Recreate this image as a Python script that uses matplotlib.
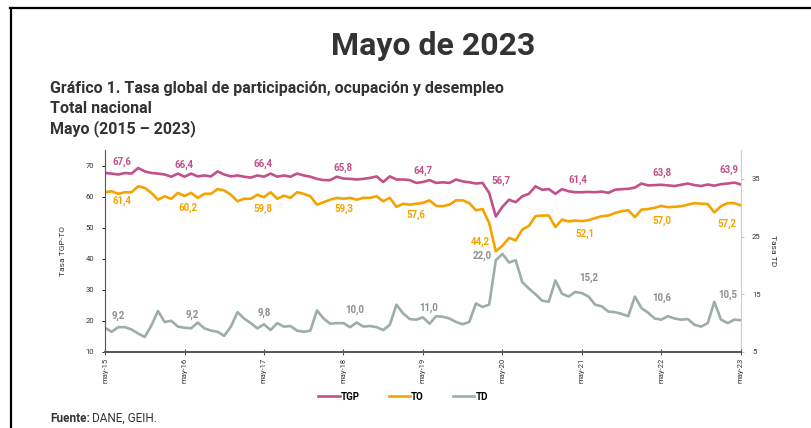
import matplotlib.pyplot as plt
from matplotlib.lines import Line2D

# ── Data (monthly, May-2015 .. May-2023) ─────────────────────────────────────
tgp = [
    67.6, 67.4, 67.1, 67.6, 67.4, 69.2, 68.1, 67.6, 67.4, 67.1, 66.4, 67.4,
    66.4, 67.4, 66.5, 66.8, 66.5, 68.1, 67.1, 66.5, 66.8, 66.4, 66.1, 66.8,
    66.4, 67.4, 66.4, 66.8, 66.4, 67.4, 66.8, 66.4, 65.7, 65.3, 65.3, 66.4,
    65.8, 65.7, 65.5, 65.7, 66.0, 66.5, 64.7, 66.5, 65.5, 65.5, 65.3, 64.4,
    64.7, 65.3, 64.4, 64.6, 64.4, 65.5, 64.9, 64.6, 64.2, 64.4, 61.2, 53.6,
    56.7, 59.0, 58.2, 60.1, 60.9, 63.3, 62.2, 62.4, 60.9, 62.4, 61.7, 61.4,
    61.4, 61.5, 61.4, 61.6, 61.2, 62.2, 62.4, 62.5, 62.9, 64.2, 63.6, 63.7,
    63.8, 63.6, 63.4, 63.8, 64.2, 63.7, 63.4, 63.9, 63.5, 64.0, 64.2, 64.5,
    63.9,
]
to = [
    61.4, 61.7, 60.9, 61.4, 61.4, 63.3, 62.8, 61.2, 59.0, 60.1, 59.3, 61.2,
    60.2, 61.2, 59.6, 60.9, 60.9, 62.4, 62.0, 60.6, 58.5, 59.3, 59.3, 60.6,
    59.8, 61.4, 59.3, 60.3, 59.6, 61.4, 60.9, 60.1, 57.4, 58.2, 59.0, 59.6,
    59.3, 59.6, 59.0, 59.6, 59.6, 60.1, 58.5, 59.6, 56.7, 57.7, 57.4, 57.7,
    58.0, 58.8, 57.0, 56.9, 57.4, 58.8, 58.8, 57.9, 55.6, 56.0, 51.5, 42.4,
    44.2, 46.7, 45.9, 49.4, 50.6, 53.7, 53.9, 53.9, 50.2, 52.6, 52.0, 52.3,
    52.1, 52.4, 53.1, 53.7, 53.9, 54.7, 55.3, 55.6, 53.4, 55.8, 56.0, 56.4,
    57.0, 56.6, 56.7, 56.9, 57.4, 57.9, 57.7, 57.6, 54.9, 56.9, 57.9, 57.9,
    57.2,
]
td = [
    9.2, 8.5, 9.3, 9.3, 8.9, 8.2, 7.6, 9.6, 12.1, 10.2, 10.4, 9.4,
    9.2, 9.1, 10.1, 9.1, 8.7, 8.5, 7.8, 9.4, 11.9, 10.8, 10.0, 9.1,
    9.8, 8.8, 10.0, 9.4, 9.5, 8.7, 8.5, 8.7, 12.2, 10.8, 9.9, 10.0,
    10.0, 9.3, 10.1, 9.4, 9.5, 9.3, 8.8, 9.7, 13.2, 11.7, 10.7, 10.6,
    11.0, 9.9, 11.2, 11.1, 10.8, 10.2, 9.8, 10.2, 13.4, 12.8, 13.2, 20.9,
    22.0, 20.5, 20.9, 17.1, 16.0, 15.0, 13.9, 13.7, 17.4, 15.1, 14.6, 15.4,
    15.2, 14.6, 13.2, 12.9, 12.0, 11.9, 11.6, 11.2, 14.6, 12.6, 11.8, 10.8,
    10.6, 11.2, 10.8, 10.6, 10.7, 9.7, 9.4, 10.0, 13.7, 10.6, 10.0, 10.6,
    10.5,
]
months = list(range(len(tgp)))
year_ticks = [f"may-{y}" for y in range(15, 24)]

# value labels shown on the chart (May of each year)
tgp_lab = ["67,6", "66,4", "66,4", "65,8", "64,7", "56,7", "61,4", "63,8", "63,9"]
to_lab = ["61,4", "60,2", "59,8", "59,3", "57,6", "44,2", "52,1", "57,0", "57,2"]
td_lab = ["9,2", "9,2", "9,8", "10,0", "11,0", "22,0", "15,2", "10,6", "10,5"]

# ── Style ────────────────────────────────────────────────────────────────────
plt.rcParams["font.family"] = ["Roboto", "DejaVu Sans"]

c_tgp = "#C2508B"
c_to = "#F5A300"
c_td = "#9DADA8"
c_txt = "#333333"

fig = plt.figure(figsize=(8.11, 4.28), dpi=100)

# page frame (black top / left borders)
fig.add_artist(Line2D([0.012, 1.0], [0.981, 0.981], color="black", lw=1.6))
fig.add_artist(Line2D([0.0135, 0.0135], [0.0, 0.981], color="black", lw=1.6))

fig.text(0.534, 0.893, "Mayo de 2023", ha="center", va="center",
         fontsize=23, fontweight="bold", color=c_txt)
fig.text(0.062, 0.793, "Gráfico 1. Tasa global de participación, ocupación y desempleo",
         fontsize=11.5, fontweight="bold", color=c_txt, va="center")
fig.text(0.062, 0.746, "Total nacional", fontsize=11.5, fontweight="bold",
         color=c_txt, va="center")
fig.text(0.062, 0.699, "Mayo (2015 – 2023)", fontsize=11.5, fontweight="bold",
         color=c_txt, va="center")

ax = fig.add_axes([0.1295, 0.1776, 0.784, 0.472])
ax2 = ax.twinx()

ax.plot(months, tgp, color=c_tgp, lw=1.9, solid_joinstyle="round")
ax.plot(months, to, color=c_to, lw=1.9, solid_joinstyle="round")
ax2.plot(months, td, color=c_td, lw=1.9, solid_joinstyle="round")

ax.set_xlim(0, 96)
ax.set_ylim(10, 75)
ax2.set_ylim(5, 40)
ax.set_yticks(range(10, 71, 10))
ax2.set_yticks([5, 15, 25, 35])
ax.set_xticks(range(0, 97, 12))
ax.set_xticklabels(year_ticks, rotation=90, fontsize=5.5, color=c_txt)

for a in (ax, ax2):
    a.spines["top"].set_visible(False)
ax.set_zorder(1)
ax2.set_zorder(0)
ax.patch.set_visible(False)
ax.spines["right"].set_visible(False)
ax.spines["left"].set_color("#555555")
ax.spines["bottom"].set_color("#555555")
ax.spines["bottom"].set_linewidth(1.4)
ax2.spines["left"].set_visible(False)
ax2.spines["bottom"].set_visible(False)
ax2.spines["right"].set_color("#cccccc")

ax.tick_params(axis="x", direction="inout", length=4, width=0.8, color="#555555", pad=2)
ax.tick_params(axis="y", direction="out", length=2, width=0.6, labelsize=5.5,
               labelcolor=c_txt, pad=6)
ax2.tick_params(axis="y", direction="out", length=2, width=0.6, color="#bbbbbb",
                labelsize=5.5, labelcolor=c_txt, pad=6)

ax.set_ylabel("Tasa TGP-TO", fontsize=6, color=c_txt, labelpad=14)
ax2.set_ylabel("Tasa TD", fontsize=6, color=c_txt, rotation=270, labelpad=11)

# ── Value labels ─────────────────────────────────────────────────────────────
tgp_pos = [(2.6, 71.3), (12.0, 70.3), (23.8, 70.6), (36.0, 69.4), (48.0, 68.2),
           (59.8, 65.2), (71.4, 65.5), (84.1, 67.7), (94.2, 68.7)]
to_pos = [(2.6, 58.5), (12.6, 56.5), (23.9, 56.1), (36.1, 56.1), (47.0, 54.0),
          (56.6, 45.3), (72.5, 48.0), (84.1, 52.3), (93.9, 51.3)]
td_pos = [(2.0, 11.3), (13.2, 11.4), (24.0, 11.7), (37.7, 12.3), (48.8, 12.7),
          (57.0, 21.6), (73.0, 17.9), (84.0, 14.4), (94.0, 14.9)]

for (x, y), s in zip(tgp_pos, tgp_lab):
    ax.text(x, y, s, ha="center", va="center", fontsize=7, color=c_tgp,
            fontweight="bold")
for (x, y), s in zip(to_pos, to_lab):
    ax.text(x, y, s, ha="center", va="center", fontsize=7, color=c_to,
            fontweight="bold")
for (x, y), s in zip(td_pos, td_lab):
    ax2.text(x, y, s, ha="center", va="center", fontsize=7, color="#8a8f92",
             fontweight="bold")

# ── Legend ───────────────────────────────────────────────────────────────────
handles = [Line2D([], [], color=c, lw=1.9) for c in (c_tgp, c_to, c_td)]
fig.legend(handles, ["TGP", "TO", "TD"], loc="center", bbox_to_anchor=(0.497, 0.073),
           ncol=3, frameon=False, handlelength=2.2, handletextpad=0.1,
           columnspacing=3.0, prop={"weight": "bold", "size": 7})

fig.text(0.062, 0.023, "Fuente:", fontsize=8.5, fontweight="bold", color=c_txt,
         va="center")
fig.text(0.113, 0.023, "DANE, GEIH.", fontsize=8.5, color=c_txt, va="center")

fig.savefig("out.png", dpi=100)
